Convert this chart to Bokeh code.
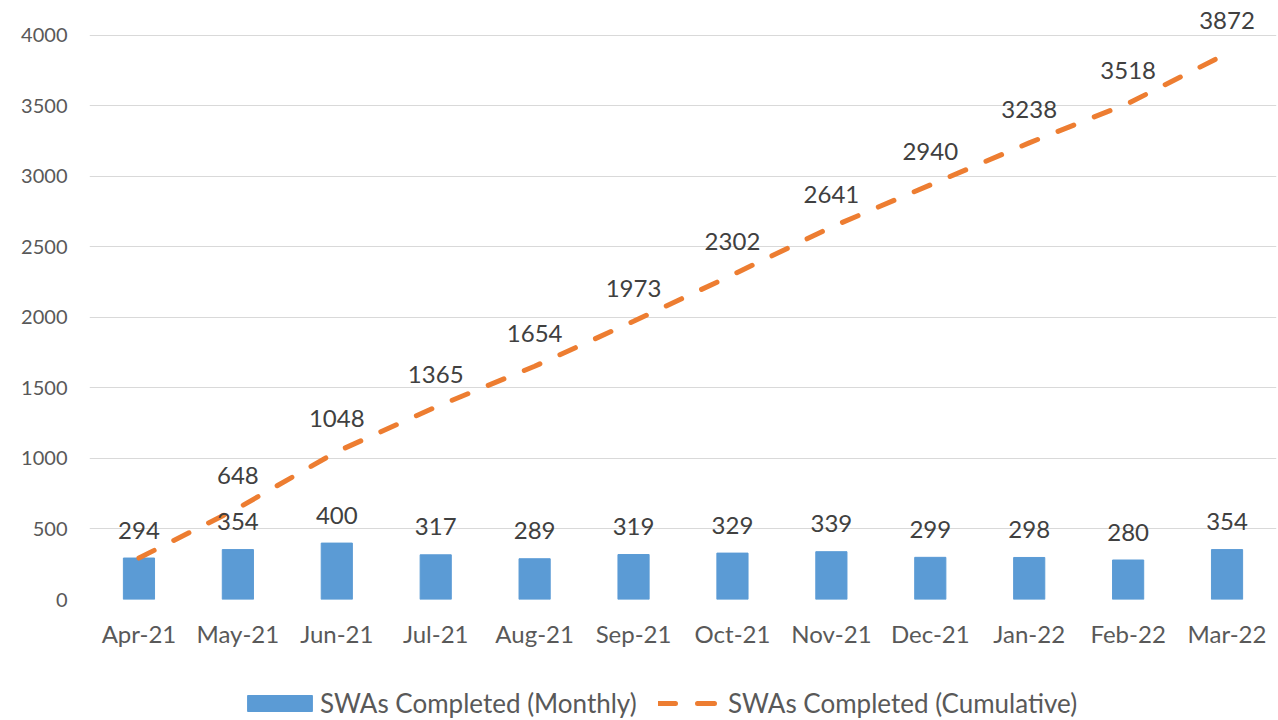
from bokeh.plotting import figure
from bokeh.layouts import column
from bokeh.models import FactorRange, Range1d, FixedTicker, Legend, LegendItem, ColumnDataSource
from bokeh.core.properties import value
from bokeh.embed import file_html
from bokeh.resources import INLINE

months = ["Apr-21", "May-21", "Jun-21", "Jul-21", "Aug-21", "Sep-21",
          "Oct-21", "Nov-21", "Dec-21", "Jan-22", "Feb-22", "Mar-22"]
monthly = [294, 354, 400, 317, 289, 319, 329, 339, 299, 298, 280, 354]
cumulative = [294, 648, 1048, 1365, 1654, 1973, 2302, 2641, 2940, 3238, 3518, 3872]
y_ticks = [0, 500, 1000, 1500, 2000, 2500, 3000, 3500, 4000]
series_names = ["SWAs Completed (Monthly)", "SWAs Completed (Cumulative)"]

FONT = "Lato"
BAR_COLOR = "#5B9BD5"
LINE_COLOR = "#ED7D31"
BAR_STYLE = dict(fill_color=BAR_COLOR, line_color=BAR_COLOR)
LINE_STYLE = dict(line_color=LINE_COLOR, line_width=5, line_dash="17 22", line_cap="round")

# first cumulative label coincides with the first monthly label (both 294)
cum_labels = [str(v) for v in cumulative]
cum_labels[0] = ""

src = ColumnDataSource(dict(
    month=months,
    monthly=monthly,
    cumulative=cumulative,
    monthly_lbl=[str(v) for v in monthly],
    cumulative_lbl=cum_labels,
))

p = figure(
    x_range=FactorRange(*months, range_padding=0),
    y_range=Range1d(0, 4191),
    width=1278, height=650,
    output_backend="svg", toolbar_location=None,
    min_border_left=89, min_border_right=2, min_border_top=8, min_border_bottom=50,
)
p.outline_line_color = None
p.background_fill_color = "white"
p.border_fill_color = "white"

bars = p.vbar(x="month", top="monthly", width=0.315, source=src, **BAR_STYLE)
line = p.line(x="month", y="cumulative", source=src, **LINE_STYLE)

p.text(x="month", y="monthly", text="monthly_lbl", source=src,
       text_align="center", text_baseline="alphabetic", y_offset=-28,
       text_font=value(FONT), text_font_size="24px", text_color="#404040")
p.text(x="month", y="cumulative", text="cumulative_lbl", source=src,
       text_align="center", text_baseline="alphabetic", y_offset=-33,
       text_font=value(FONT), text_font_size="24px", text_color="#404040")

# axes
p.yaxis.ticker = FixedTicker(ticks=y_ticks)
p.yaxis.axis_line_color = None
p.yaxis.major_tick_line_color = None
p.yaxis.minor_tick_line_color = None
p.yaxis.major_tick_out = 0
p.yaxis.major_label_standoff = 22
p.yaxis.major_label_text_font = FONT
p.yaxis.major_label_text_font_size = "20px"
p.yaxis.major_label_text_color = "#595959"

p.xaxis.axis_line_color = None
p.xaxis.major_tick_line_color = None
p.xaxis.major_tick_out = 0
p.xaxis.major_label_standoff = 19
p.xaxis.major_label_text_font = FONT
p.xaxis.major_label_text_font_size = "24px"
p.xaxis.major_label_text_color = "#595959"

p.xgrid.grid_line_color = None
p.ygrid.ticker = FixedTicker(ticks=y_ticks)
p.ygrid.grid_line_color = "#D9D9D9"
p.ygrid.grid_line_width = 1

# legend strip below the chart (its frame is aligned with the chart frame, left edge at x=89)
lf = figure(width=1278, height=70, x_range=Range1d(0, 1), y_range=Range1d(0, 1),
            output_backend="svg", toolbar_location=None, min_border=0)
lf.axis.visible = False
lf.grid.visible = False
lf.outline_line_color = None
# proxy renderers kept outside the visible range; they only supply legend swatches
lbar = lf.vbar(x=[-10], top=[-10], bottom=[-11], width=0.3, **BAR_STYLE)
lline = lf.line(x=[-10, -9], y=[-10, -10], **LINE_STYLE)

def make_legend(item, loc, gw):
    return Legend(items=[item], location=loc, orientation="horizontal",
                  glyph_width=gw, glyph_height=20, label_standoff=0,
                  padding=0, margin=0, spacing=0,
                  border_line_color=None, background_fill_alpha=0,
                  label_text_font=FONT, label_text_font_size="26px",
                  label_text_color="#595959")

lf.add_layout(make_legend(LegendItem(label=series_names[0], renderers=[lbar]), (150, 1), 81))
lf.add_layout(make_legend(LegendItem(label=series_names[1], renderers=[lline]), (569, 1), 70))

layout = column(p, lf, spacing=0)
open("out.html", "w").write(file_html(layout, INLINE))
